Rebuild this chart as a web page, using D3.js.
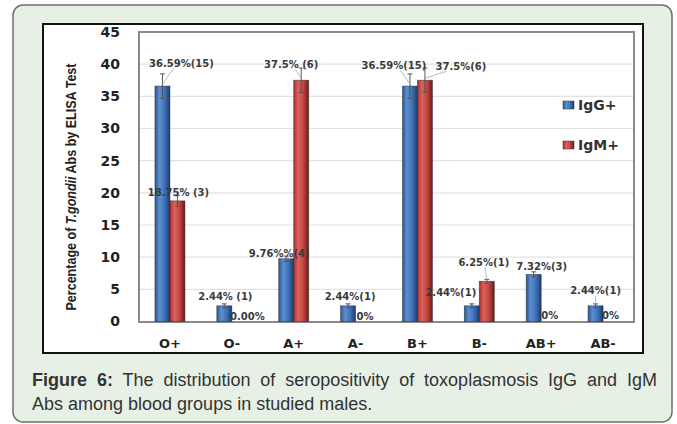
<!DOCTYPE html>
<html>
<head>
<meta charset="utf-8">
<script src="https://cdn.jsdelivr.net/npm/d3@7"></script>
<style>
  body { margin: 0; background: #fff; }
  svg { display: block; }
  .eje text { font-family: 'DejaVu Sans', sans-serif; font-weight: bold; fill: #222; }
  .etiqueta { font-family: 'DejaVu Sans', sans-serif; font-weight: bold; font-size: 10px; fill: #3a3a3a; }
</style>
</head>
<body>
<div id="graf"></div>
<script>
// I. Datos
const grupos = ['O+', 'O-', 'A+', 'A-', 'B+', 'B-', 'AB+', 'AB-']
const series = ['IgG+', 'IgM+']
const igg = [36.59, 2.44, 9.76, 2.44, 36.59, 2.44, 7.32, 2.44]
const igm = [18.75, 0, 37.5, 0, 37.5, 6.25, 0, 0]
const errIgg = [1.9, 0.3, 0.4, 0.3, 1.9, 0.3, 0.4, 0.3]
const errIgm = [0.8, 0, 1.9, 0, 1.9, 0.3, 0, 0]
const textoIgg = ['36.59%(15)', '2.44% (1)', '9.76%%(4)', '2.44%(1)', '36.59%(15)', '2.44%(1)', '7.32%(3)', '2.44%(1)']
const textoIgm = ['18.75% (3)', '0.00%', '37.5% (6)', '0%', '37.5%(6)', '6.25%(1)', '0%', '0%']
const ticksY = [0, 5, 10, 15, 20, 25, 30, 35, 40, 45]

// desplazamiento de cada etiqueta respecto a la punta de su barra (px)
const offIgg = [[19, -23], [1, -9], [-7, -5], [2, -9], [-16, -21], [-21, -13], [8, -8], [0, -15]]
const offIgm = [[1, -8], [8, -5], [-10, -16], [2, -5], [36, -14], [-3, -19], [1, -6], [0, -6]]
const guiaIgg = [true, false, false, false, true, false, false, true]
const guiaIgm = [false, false, true, false, true, true, false, false]

// II. Configuración
const ancho_total = 677
const alto_total = 424

const svg = d3.select('#graf').append('svg')
  .attr('width', ancho_total)
  .attr('height', alto_total)

const defs = svg.append('defs')
function degradado(id, stops) {
  const lg = defs.append('linearGradient').attr('id', id)
    .attr('x1', '0%').attr('x2', '100%').attr('y1', '0%').attr('y2', '0%')
  stops.forEach(s => lg.append('stop').attr('offset', s[0]).attr('stop-color', s[1]))
}
degradado('azul', [['0%', '#2b5895'], ['30%', '#5d8fd0'], ['65%', '#3f71b6'], ['100%', '#1d3c6e']])
degradado('rojo', [['0%', '#a63331'], ['30%', '#dc625e'], ['65%', '#c2443f'], ['100%', '#6b1b19']])

// panel verde de fondo
svg.append('rect')
  .attr('x', 13).attr('y', 5)
  .attr('width', 659).attr('height', 417)
  .attr('rx', 10)
  .attr('fill', '#e7f0e5')
  .attr('stroke', '#6f6f6f')
  .attr('stroke-width', 1.5)

// caja blanca del gráfico
svg.append('rect')
  .attr('x', 43).attr('y', 24)
  .attr('width', 600).attr('height', 329)
  .attr('fill', '#fff')
  .attr('stroke', '#111')
  .attr('stroke-width', 2)

const margins = { top: 32, left: 139, right: 43, bottom: 102 }
const ancho = ancho_total - margins.left - margins.right
const alto = alto_total - margins.top - margins.bottom

const g = svg.append('g')
  .attr('transform', `translate(${ margins.left }, ${ margins.top })`)

// III. Escaladores
const y = d3.scaleLinear().domain([0, 45]).range([alto - 0.5, 0])
const x = d3.scaleBand().domain(grupos).range([0, ancho])
const x1 = d3.scaleBand().domain(series).range([x.bandwidth() / 2 - 15, x.bandwidth() / 2 + 15])

// rejilla
g.selectAll(null)
  .data(ticksY.filter(d => d > 0 && d < 45))
  .enter().append('line')
    .attr('x1', 0).attr('x2', ancho)
    .attr('y1', d => y(d)).attr('y2', d => y(d))
    .attr('stroke', '#e2e2e2')
    .attr('stroke-width', 1.2)

// borde del área de trazado
g.append('rect')
  .attr('width', ancho).attr('height', alto)
  .attr('fill', 'none')
  .attr('stroke', '#8a8a8a')
  .attr('stroke-width', 2)

// ejes
const yAxisGroup = g.append('g').attr('class', 'eje')
  .attr('transform', 'translate(-16, 0)')
  .call(d3.axisLeft(y).tickValues(ticksY).tickSize(0))
yAxisGroup.select('.domain').remove()
yAxisGroup.selectAll('text').style('font-size', '14px')

const xAxisGroup = g.append('g').attr('class', 'eje')
  .attr('transform', `translate(0, ${ alto + 14 })`)
  .call(d3.axisBottom(x).tickSize(0))
xAxisGroup.select('.domain').remove()
xAxisGroup.selectAll('text').style('font-size', '13px')

// título del eje Y
const titulo = svg.append('text')
  .attr('transform', 'translate(76, 187) rotate(-90)')
  .attr('text-anchor', 'middle')
  .attr('textLength', 247)
  .attr('lengthAdjust', 'spacingAndGlyphs')
  .style('font-family', "'Liberation Sans', Arial, sans-serif")
  .style('font-size', '15px')
  .style('font-weight', 'bold')
  .style('fill', '#222')
titulo.append('tspan').text('Percentage of ')
titulo.append('tspan').style('font-style', 'italic').text('T.gondii')
titulo.append('tspan').text(' Abs by ELISA Test')

// IV. Barras
const filas = grupos.map((d, i) => ({ grupo: d, i: i }))
const datos = [
  { serie: 'IgG+', valores: igg, err: errIgg, texto: textoIgg, off: offIgg, guia: guiaIgg, color: 'url(#azul)' },
  { serie: 'IgM+', valores: igm, err: errIgm, texto: textoIgm, off: offIgm, guia: guiaIgm, color: 'url(#rojo)' }
]
const cx = (s, d) => x(d.grupo) + x1(s.serie) + x1.bandwidth() / 2
const tope = (s, d) => y(s.valores[d.i])

// a. barras de ambas series
datos.forEach(s => {
  g.selectAll(null)
    .data(filas.filter(d => s.valores[d.i] > 0))
    .enter().append('rect')
      .attr('x', d => x(d.grupo) + x1(s.serie))
      .attr('y', d => tope(s, d))
      .attr('width', x1.bandwidth())
      .attr('height', d => y(0) - tope(s, d))
      .attr('fill', s.color)
      .attr('stroke', '#1c1c1c')
      .attr('stroke-opacity', 0.55)
      .attr('stroke-width', 0.8)
})

// b. barras de error y líneas guía
datos.forEach(s => {
  g.selectAll(null)
    .data(filas.filter(d => s.err[d.i] > 0))
    .enter().append('path')
      .attr('d', d => {
        const a = y(s.valores[d.i] + s.err[d.i]), b = y(s.valores[d.i] - s.err[d.i]), c = cx(s, d)
        return `M${c},${a}V${b}M${c - 2.5},${a}H${c + 2.5}M${c - 2.5},${b}H${c + 2.5}`
      })
      .attr('stroke', '#555')
      .attr('stroke-width', 1)
      .attr('fill', 'none')

  g.selectAll(null)
    .data(filas.filter(d => s.guia[d.i]))
    .enter().append('line')
      .attr('x1', d => cx(s, d))
      .attr('y1', d => tope(s, d) - 2)
      .attr('x2', d => cx(s, d) + s.off[d.i][0] * 0.6)
      .attr('y2', d => tope(s, d) + s.off[d.i][1] + 5)
      .attr('stroke', '#a8a8a8')
      .attr('stroke-width', 0.8)
})

// c. etiquetas de valores encima de todo
datos.forEach(s => {
  g.selectAll(null)
    .data(filas)
    .enter().append('text')
      .attr('class', 'etiqueta')
      .attr('x', d => cx(s, d) + s.off[d.i][0])
      .attr('y', d => tope(s, d) + s.off[d.i][1])
      .attr('dy', '0.35em')
      .attr('text-anchor', 'middle')
      .text(d => s.texto[d.i])
})

// V. Leyenda
const leyenda = g.selectAll(null)
  .data(datos)
  .enter().append('g')
    .attr('transform', (d, i) => `translate(${ 424 }, ${ 73 + i * 40 })`)
leyenda.append('rect')
  .attr('x', 0).attr('y', -4)
  .attr('width', 11).attr('height', 8)
  .attr('fill', d => d.color)
  .attr('stroke', '#333')
  .attr('stroke-width', 0.5)
leyenda.append('text')
  .attr('x', 15).attr('dy', '0.35em')
  .style('font-family', "'DejaVu Sans', sans-serif")
  .style('font-weight', 'bold')
  .style('font-size', '14px')
  .style('fill', '#333')
  .text(d => d.serie)

// VI. Pie de figura
const pie = svg.append('g')
  .style('font-family', "'Liberation Sans', Arial, sans-serif")
  .style('font-size', '18px')
  .style('fill', '#333')

const linea1 = pie.append('text').attr('x', 32).attr('y', 386)
linea1.append('tspan').style('font-weight', 'bold').text('Figure 6:')
linea1.append('tspan').text(' The distribution of seropositivity of toxoplasmosis IgG and IgM')
// justificar la primera línea hasta el borde derecho
const largo = linea1.node().getComputedTextLength()
const espacios = 9
linea1.style('word-spacing', `${ (620 - largo) / espacios }px`)

pie.append('text').attr('x', 32).attr('y', 410)
  .text('Abs among blood groups in studied males.')
</script>
</body>
</html>
